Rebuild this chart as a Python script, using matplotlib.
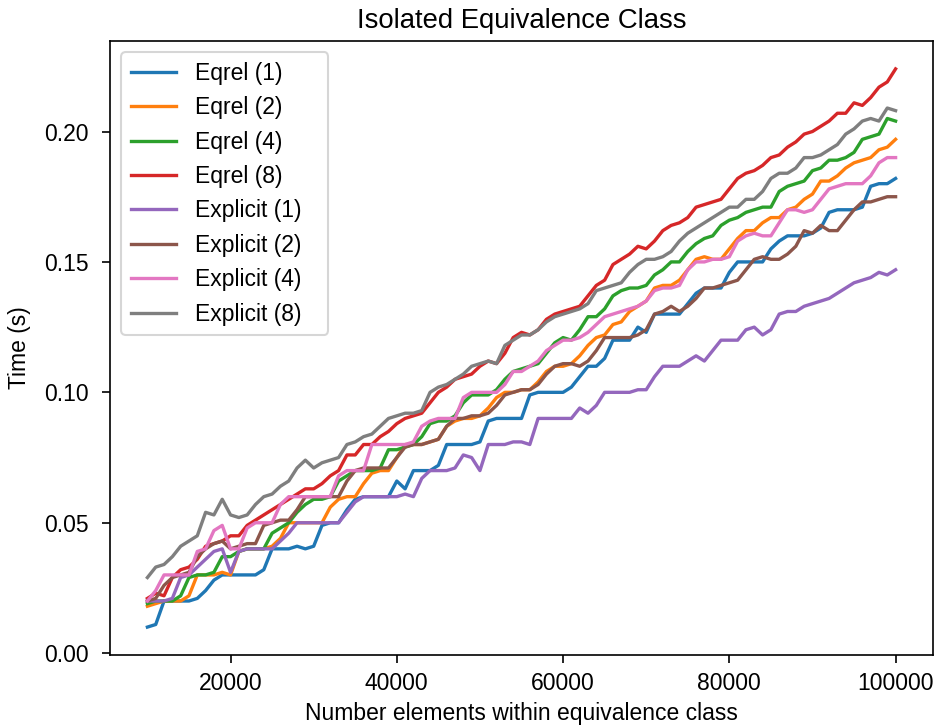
import numpy as np
import matplotlib
matplotlib.use("Agg")
import matplotlib.pyplot as plt

plt.rcParams["font.family"] = ["Liberation Sans", "DejaVu Sans"]
plt.rcParams["font.size"] = 11
plt.rcParams["xtick.major.size"] = 3.8
plt.rcParams["ytick.major.size"] = 3.8
plt.rcParams["ytick.major.pad"] = 6.5
plt.rcParams["xtick.major.pad"] = 4.5

# ─── data ───────────────────────────────────────────────────────────
sizes = np.arange(10000, 100001, 1000)

eqrel_1 = [0.010, 0.011, 0.020, 0.020, 0.020, 0.020, 0.021, 0.024, 0.028, 0.030,
           0.030, 0.030, 0.030, 0.030, 0.032, 0.040, 0.040, 0.040, 0.041, 0.040,
           0.041, 0.049, 0.050, 0.050, 0.055, 0.059, 0.060, 0.060, 0.060, 0.060,
           0.066, 0.063, 0.070, 0.070, 0.070, 0.072, 0.080, 0.080, 0.080, 0.080,
           0.081, 0.089, 0.090, 0.090, 0.090, 0.090, 0.099, 0.100, 0.100, 0.100,
           0.100, 0.102, 0.106, 0.110, 0.110, 0.113, 0.120, 0.120, 0.120, 0.125,
           0.123, 0.130, 0.130, 0.130, 0.130, 0.134, 0.138, 0.140, 0.140, 0.140,
           0.146, 0.150, 0.150, 0.150, 0.150, 0.155, 0.158, 0.160, 0.160, 0.160,
           0.161, 0.163, 0.169, 0.170, 0.170, 0.170, 0.171, 0.179, 0.180, 0.180,
           0.182]

eqrel_2 = [0.018, 0.019, 0.020, 0.020, 0.020, 0.022, 0.030, 0.030, 0.030, 0.031,
           0.030, 0.039, 0.040, 0.040, 0.040, 0.041, 0.044, 0.050, 0.050, 0.050,
           0.050, 0.050, 0.056, 0.059, 0.060, 0.060, 0.065, 0.069, 0.070, 0.070,
           0.075, 0.080, 0.080, 0.080, 0.081, 0.082, 0.087, 0.089, 0.090, 0.090,
           0.091, 0.094, 0.098, 0.100, 0.100, 0.101, 0.101, 0.104, 0.108, 0.110,
           0.110, 0.111, 0.114, 0.118, 0.121, 0.122, 0.126, 0.127, 0.131, 0.133,
           0.135, 0.140, 0.141, 0.141, 0.143, 0.147, 0.151, 0.152, 0.151, 0.151,
           0.155, 0.159, 0.162, 0.162, 0.165, 0.167, 0.167, 0.170, 0.171, 0.174,
           0.176, 0.181, 0.181, 0.183, 0.186, 0.188, 0.189, 0.190, 0.193, 0.194,
           0.197]

eqrel_4 = [0.019, 0.020, 0.020, 0.020, 0.022, 0.029, 0.030, 0.030, 0.031, 0.037,
           0.037, 0.039, 0.040, 0.040, 0.040, 0.046, 0.048, 0.050, 0.054, 0.057,
           0.059, 0.059, 0.060, 0.066, 0.068, 0.070, 0.070, 0.070, 0.071, 0.078,
           0.078, 0.079, 0.080, 0.083, 0.088, 0.089, 0.089, 0.091, 0.096, 0.099,
           0.099, 0.099, 0.101, 0.105, 0.108, 0.109, 0.110, 0.111, 0.115, 0.119,
           0.121, 0.120, 0.124, 0.129, 0.129, 0.132, 0.137, 0.139, 0.140, 0.140,
           0.141, 0.145, 0.147, 0.150, 0.150, 0.154, 0.157, 0.159, 0.160, 0.164,
           0.166, 0.167, 0.169, 0.170, 0.171, 0.171, 0.177, 0.179, 0.180, 0.181,
           0.185, 0.186, 0.189, 0.189, 0.190, 0.192, 0.197, 0.198, 0.199, 0.205,
           0.204]

eqrel_8 = [0.021, 0.023, 0.022, 0.029, 0.032, 0.033, 0.036, 0.041, 0.042, 0.043,
           0.045, 0.045, 0.049, 0.051, 0.053, 0.055, 0.057, 0.059, 0.061, 0.063,
           0.063, 0.065, 0.068, 0.070, 0.076, 0.076, 0.080, 0.080, 0.083, 0.085,
           0.088, 0.090, 0.091, 0.092, 0.096, 0.100, 0.102, 0.105, 0.106, 0.107,
           0.110, 0.112, 0.111, 0.115, 0.121, 0.123, 0.122, 0.124, 0.128, 0.130,
           0.131, 0.132, 0.133, 0.137, 0.141, 0.143, 0.149, 0.151, 0.153, 0.156,
           0.155, 0.158, 0.162, 0.164, 0.165, 0.167, 0.171, 0.172, 0.173, 0.174,
           0.178, 0.182, 0.184, 0.185, 0.187, 0.190, 0.191, 0.194, 0.196, 0.199,
           0.200, 0.202, 0.204, 0.207, 0.207, 0.211, 0.210, 0.213, 0.217, 0.219,
           0.224]

explicit_1 = [0.020, 0.020, 0.020, 0.021, 0.029, 0.030, 0.033, 0.036, 0.039, 0.040,
              0.031, 0.039, 0.040, 0.040, 0.040, 0.040, 0.043, 0.046, 0.050, 0.050,
              0.050, 0.050, 0.050, 0.050, 0.054, 0.058, 0.060, 0.060, 0.060, 0.060,
              0.060, 0.061, 0.060, 0.067, 0.070, 0.070, 0.070, 0.071, 0.076, 0.075,
              0.070, 0.080, 0.080, 0.080, 0.081, 0.081, 0.080, 0.090, 0.090, 0.090,
              0.090, 0.090, 0.094, 0.092, 0.095, 0.100, 0.100, 0.100, 0.100, 0.101,
              0.101, 0.106, 0.110, 0.110, 0.110, 0.112, 0.114, 0.112, 0.116, 0.120,
              0.120, 0.120, 0.124, 0.125, 0.122, 0.124, 0.130, 0.131, 0.131, 0.133,
              0.134, 0.135, 0.136, 0.138, 0.140, 0.142, 0.143, 0.144, 0.146, 0.145,
              0.147]

explicit_2 = [0.020, 0.021, 0.026, 0.029, 0.030, 0.031, 0.037, 0.040, 0.042, 0.043,
              0.040, 0.041, 0.042, 0.042, 0.049, 0.050, 0.051, 0.051, 0.055, 0.060,
              0.060, 0.060, 0.060, 0.060, 0.066, 0.070, 0.071, 0.071, 0.071, 0.071,
              0.075, 0.079, 0.080, 0.080, 0.081, 0.082, 0.087, 0.090, 0.090, 0.091,
              0.091, 0.092, 0.095, 0.099, 0.100, 0.101, 0.101, 0.103, 0.107, 0.110,
              0.111, 0.111, 0.110, 0.112, 0.116, 0.121, 0.121, 0.121, 0.121, 0.122,
              0.124, 0.130, 0.131, 0.133, 0.131, 0.133, 0.136, 0.140, 0.140, 0.141,
              0.142, 0.143, 0.147, 0.151, 0.152, 0.151, 0.151, 0.153, 0.156, 0.162,
              0.161, 0.164, 0.162, 0.162, 0.166, 0.170, 0.173, 0.173, 0.174, 0.175,
              0.175]

explicit_4 = [0.020, 0.024, 0.030, 0.030, 0.030, 0.030, 0.039, 0.040, 0.047, 0.049,
              0.040, 0.040, 0.048, 0.050, 0.050, 0.050, 0.057, 0.060, 0.060, 0.060,
              0.060, 0.060, 0.060, 0.068, 0.070, 0.070, 0.070, 0.080, 0.080, 0.080,
              0.080, 0.080, 0.081, 0.087, 0.089, 0.090, 0.090, 0.090, 0.098, 0.100,
              0.100, 0.100, 0.100, 0.103, 0.108, 0.108, 0.110, 0.112, 0.116, 0.118,
              0.120, 0.120, 0.121, 0.123, 0.126, 0.129, 0.130, 0.131, 0.132, 0.133,
              0.135, 0.139, 0.140, 0.140, 0.141, 0.147, 0.150, 0.150, 0.151, 0.151,
              0.152, 0.158, 0.160, 0.161, 0.160, 0.160, 0.165, 0.170, 0.170, 0.169,
              0.170, 0.174, 0.178, 0.179, 0.180, 0.180, 0.180, 0.183, 0.188, 0.190,
              0.190]

explicit_8 = [0.029, 0.033, 0.034, 0.037, 0.041, 0.043, 0.045, 0.054, 0.053, 0.059,
              0.053, 0.052, 0.053, 0.057, 0.060, 0.061, 0.064, 0.066, 0.071, 0.074,
              0.071, 0.073, 0.074, 0.075, 0.080, 0.081, 0.083, 0.084, 0.087, 0.090,
              0.091, 0.092, 0.092, 0.093, 0.100, 0.102, 0.103, 0.105, 0.107, 0.110,
              0.111, 0.112, 0.111, 0.118, 0.120, 0.122, 0.122, 0.124, 0.127, 0.129,
              0.130, 0.131, 0.132, 0.134, 0.139, 0.140, 0.141, 0.142, 0.146, 0.149,
              0.151, 0.151, 0.152, 0.154, 0.158, 0.161, 0.163, 0.165, 0.167, 0.169,
              0.171, 0.171, 0.174, 0.174, 0.177, 0.182, 0.184, 0.184, 0.186, 0.190,
              0.190, 0.191, 0.193, 0.195, 0.199, 0.201, 0.204, 0.205, 0.204, 0.209,
              0.208]

series = {
    "Eqrel (1)": eqrel_1,
    "Eqrel (2)": eqrel_2,
    "Eqrel (4)": eqrel_4,
    "Eqrel (8)": eqrel_8,
    "Explicit (1)": explicit_1,
    "Explicit (2)": explicit_2,
    "Explicit (4)": explicit_4,
    "Explicit (8)": explicit_8,
}

# ─── plot ───────────────────────────────────────────────────────────
fig = plt.figure(figsize=(6.24, 725 / 150), dpi=150)
ax = fig.add_axes([110 / 936, 70 / 725, 823 / 936, 614 / 725])

for label, vals in series.items():
    ax.plot(sizes, vals, label=label, lw=1.6)

ax.set_title("Isolated Equivalence Class", fontsize=13.2)
ax.set_xlabel("Number elements within equivalence class", labelpad=3)
ax.set_ylabel("Time (s)", labelpad=6)
# legend box a bit wider than its text, as in the original
ax.legend(loc="upper left", borderaxespad=0.5, mode="expand",
          bbox_to_anchor=(0, 0, 0.279, 1))

fig.savefig("out.png", dpi=150)
